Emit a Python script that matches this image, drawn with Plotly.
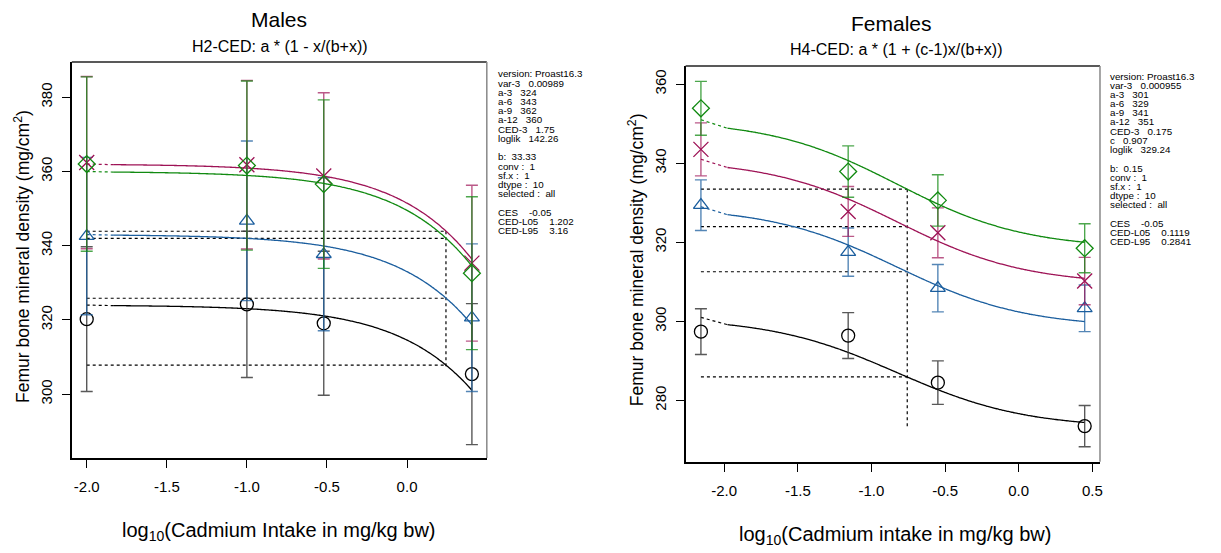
import numpy as np
import plotly.graph_objects as go

W, H = 1221, 553
FONT = "Arial, Liberation Sans, sans-serif"

# ---------------- data ----------------
groups = ["a-3", "a-6", "a-9", "a-12"]
colors = ["#000000", "#1b5e9e", "#9e1356", "#118a11"]
bar_colors = ["rgba(60,60,60,0.85)", "rgba(27,94,158,0.75)", "rgba(158,19,86,0.7)", "rgba(17,138,17,0.75)"]
symbols = ["circle-open", "triangle-up-open", "x-thin-open", "diamond-open"]
sizes = [13, 13, 15, 13]

# Males
m_x = [-2.0, -1.0, -0.52, 0.405]
m_mean_a3 = [320.2, 324.2, 319.1, 305.4]
m_mean_a6 = [342.6, 346.7, 337.7, 320.6]
m_mean_a9 = [362.4, 361.8, 358.8, 335.3]
m_mean_a12 = [362.0, 361.6, 356.6, 332.6]
m_err_a3 = [19.5, 19.7, 19.4, 19.0]
m_err_a6 = [21.2, 21.5, 20.6, 19.9]
m_err_a9 = [23.2, 22.7, 22.4, 21.0]
m_err_a12 = [23.5, 22.8, 22.7, 20.6]
m_a = [324, 343, 362, 360]
m_b = 33.33
m_ced = 1.75
m_ces = -0.05
m_curve_start = -1.835
m_vline_bottom = 307.0

# Females
f_x = [-2.158, -1.158, -0.549, 0.448]
f_mean_a3 = [297.4, 296.4, 284.5, 273.5]
f_mean_a6 = [329.4, 317.5, 308.4, 303.3]
f_mean_a9 = [343.5, 327.8, 322.4, 310.2]
f_mean_a12 = [353.9, 337.9, 330.6, 318.5]
f_err_a3 = [5.8, 5.8, 5.5, 5.2]
f_err_a6 = [6.4, 6.1, 6.0, 5.9]
f_err_a9 = [6.7, 6.3, 6.3, 6.0]
f_err_a12 = [6.8, 6.5, 6.5, 6.2]
f_a = [301, 329, 341, 351]
f_b = 0.15
f_c = 0.907
f_ced = 0.175
f_ces = -0.05
f_curve_start = -1.978
f_vline_bottom = 273.3

m_text = ["version: Proast16.3", "var-3   0.00989", "a-3   324", "a-6   343", "a-9   362",
          "a-12   360", "CED-3   1.75", "loglik   142.26", "", "b:  33.33", "conv :  1",
          "sf.x :  1", "dtype :  10", "selected :  all", "", "CES    -0.05",
          "CED-L05    1.202", "CED-L95    3.16"]
f_text = ["version: Proast16.3", "var-3   0.000955", "a-3   301", "a-6   329", "a-9   341",
          "a-12   351", "CED-3   0.175", "c   0.907", "loglik   329.24", "", "b:  0.15",
          "conv :  1", "sf.x :  1", "dtype :  10", "selected :  all", "", "CES    -0.05",
          "CED-L05    0.1119", "CED-L95    0.2841"]

x_ticks_m = [-2.0, -1.5, -1.0, -0.5, 0.0]
x_ticks_f = [-2.0, -1.5, -1.0, -0.5, 0.0, 0.5]
y_ticks_m = [300, 320, 340, 360, 380]
y_ticks_f = [280, 300, 320, 340, 360]

# ---------------- layout geometry (pixels) ----------------
L_box = (72, 488, 62, 458)
R_box = (687.3, 1102.7, 66, 461.7)


def px(x):
    return x / W


def py(y):
    return 1 - y / H


def m_model(a, lx):
    d = 10.0 ** np.asarray(lx)
    return a * (1 - d / (m_b + d))


def f_model(a, lx):
    d = 10.0 ** np.asarray(lx)
    return a * (1 + (f_c - 1) * d / (f_b + d))


fig = go.Figure()


def add_panel(xa, ya, xs, means, errs, a_vals, model, cstart, ced, ces, vbottom):
    lced = np.log10(ced)
    levels = [a * (1 + ces) for a in a_vals]
    # CED dotted lines
    for lv in levels:
        fig.add_trace(go.Scatter(x=[xs[0], lced], y=[lv, lv], mode="lines", xaxis=xa, yaxis=ya,
                                 line=dict(color="black", width=1.2, dash="dot"), hoverinfo="skip"))
    fig.add_trace(go.Scatter(x=[lced, lced], y=[max(levels), vbottom], mode="lines", xaxis=xa, yaxis=ya,
                             line=dict(color="black", width=1.2, dash="dot"), hoverinfo="skip"))
    for i in range(4):
        gx = np.linspace(cstart, xs[-1], 200)
        gy = model(a_vals[i], gx)
        fig.add_trace(go.Scatter(x=[xs[0], cstart], y=[a_vals[i], float(model(a_vals[i], cstart))],
                                 mode="lines", xaxis=xa, yaxis=ya,
                                 line=dict(color=colors[i], width=1.2, dash="dot"), hoverinfo="skip"))
        fig.add_trace(go.Scatter(x=gx, y=gy, mode="lines", xaxis=xa, yaxis=ya,
                                 line=dict(color=colors[i], width=1.3, shape="spline"), hoverinfo="skip"))
        fig.add_trace(go.Scatter(x=xs, y=means[i], mode="markers", xaxis=xa, yaxis=ya,
                                 marker=dict(symbol=symbols[i], size=sizes[i], color=colors[i],
                                             line=dict(color=colors[i], width=1.3)),
                                 error_y=dict(type="data", array=errs[i], color=bar_colors[i],
                                              thickness=1.4, width=6)))


add_panel("x", "y", m_x, [m_mean_a3, m_mean_a6, m_mean_a9, m_mean_a12],
          [m_err_a3, m_err_a6, m_err_a9, m_err_a12], m_a, m_model, m_curve_start,
          m_ced, m_ces, m_vline_bottom)
add_panel("x2", "y2", f_x, [f_mean_a3, f_mean_a6, f_mean_a9, f_mean_a12],
          [f_err_a3, f_err_a6, f_err_a9, f_err_a12], f_a, f_model, f_curve_start,
          f_ced, f_ces, f_vline_bottom)


def axis_common():
    return dict(showgrid=False, zeroline=False, showline=True, linecolor="black", linewidth=2,
                ticks="outside", ticklen=8, tickwidth=1, tickcolor="black",
                tickfont=dict(family=FONT, size=15, color="black"))


fig.update_layout(
    width=W, height=H, margin=dict(l=0, r=0, t=0, b=0),
    paper_bgcolor="white", plot_bgcolor="white", showlegend=False,
    xaxis=dict(**axis_common(), domain=[px(L_box[0]), px(L_box[1])], range=[-2.093, 0.498],
               tickvals=x_ticks_m, ticktext=[f"{v:.1f}" for v in x_ticks_m], anchor="y",
               ticklabelstandoff=6),
    yaxis=dict(**axis_common(), domain=[py(L_box[3]), py(L_box[2])], range=[282.8, 389.5],
               tickvals=y_ticks_m, tickangle=-90, anchor="x", ticklabelstandoff=4),
    xaxis2=dict(**axis_common(), domain=[px(R_box[0]), px(R_box[1])], range=[-2.262, 0.552],
                tickvals=x_ticks_f, ticktext=[f"{v:.1f}" for v in x_ticks_f], anchor="y2",
                ticklabelstandoff=6),
    yaxis2=dict(**axis_common(), domain=[py(R_box[3]), py(R_box[2])], range=[264.5, 364.6],
                tickvals=y_ticks_f, tickangle=-90, anchor="x2", ticklabelstandoff=4),
)

# top / right box edges
shapes = []
for (x0, x1, y0, y1) in [L_box, R_box]:
    shapes.append(dict(type="line", xref="paper", yref="paper", x0=px(x0), x1=px(x1), y0=py(y0), y1=py(y0),
                       line=dict(color="#222222", width=1.5)))
    shapes.append(dict(type="line", xref="paper", yref="paper", x0=px(x1), x1=px(x1), y0=py(y0), y1=py(y1),
                       line=dict(color="#888888", width=1.5)))
fig.update_layout(shapes=shapes)

ann = []


def txt(x, y, s, size, anchor="center", angle=0):
    ann.append(dict(x=px(x), y=py(y), xref="paper", yref="paper", text=s, showarrow=False,
                    xanchor=anchor, yanchor="middle", textangle=angle,
                    font=dict(family=FONT, size=size, color="black")))


txt(280, 19, "Males", 21)
txt(281, 46, "H2-CED: a * (1 - x/(b+x))", 16)
txt(894, 24, "Females", 21)
txt(898, 50, "H4-CED: a * (1 + (c-1)x/(b+x))", 16)
txt(279, 531, "log<sub>10</sub>(Cadmium Intake in mg/kg bw)", 20)
txt(897, 535, "log<sub>10</sub>(Cadmium intake in mg/kg bw)", 20)
txt(22, (L_box[2] + L_box[3]) / 2 - 4, "Femur bone mineral density (mg/cm<sup>2</sup>)", 17.5, angle=-90)
txt(637, (R_box[2] + R_box[3]) / 2 - 4, "Femur bone mineral density (mg/cm<sup>2</sup>)", 17.5, angle=-90)

for i, s in enumerate(m_text):
    if s:
        txt(497, 74 + i * 9.2, s.replace(" ", "\u00a0"), 9.8, anchor="left")
for i, s in enumerate(f_text):
    if s:
        txt(1111, 76 + i * 9.2, s.replace(" ", "\u00a0"), 9.8, anchor="left")

fig.update_layout(annotations=ann)
fig.write_html("out.html")
